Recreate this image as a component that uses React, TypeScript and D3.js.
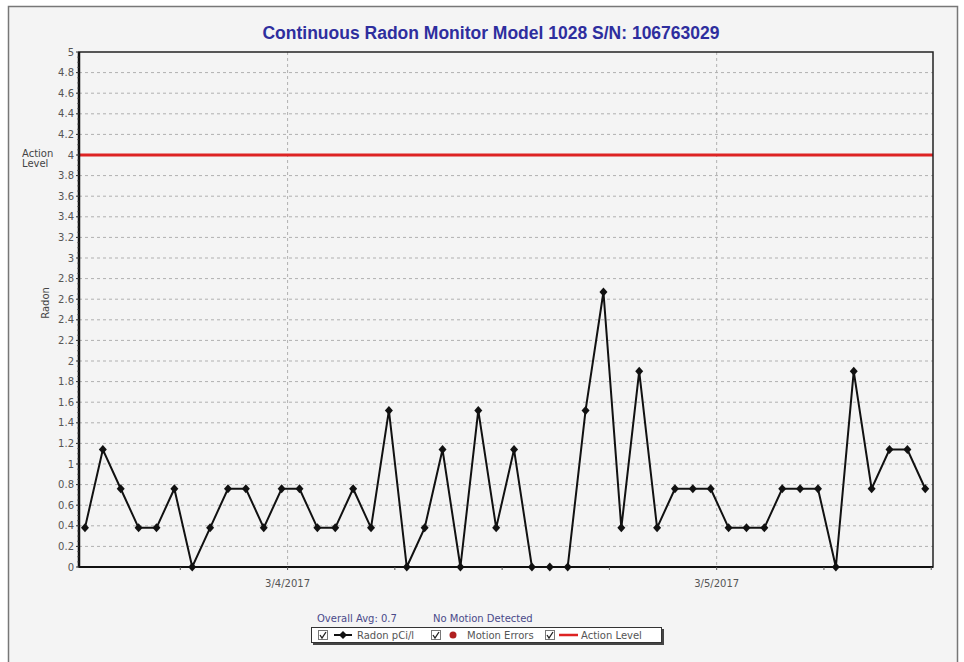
import * as d3 from 'd3';

// hourly readings, pCi/L
const radonValues = [
  0.38, 1.14, 0.76, 0.38, 0.38, 0.76, 0, 0.38, 0.76, 0.76, 0.38, 0.76,
  0.76, 0.38, 0.38, 0.76, 0.38, 1.52, 0, 0.38, 1.14, 0, 1.52, 0.38,
  1.14, 0, 0, 0, 1.52, 2.67, 0.38, 1.9, 0.38, 0.76, 0.76, 0.76,
  0.38, 0.38, 0.38, 0.76, 0.76, 0.76, 0, 1.9, 0.76, 1.14, 1.14, 0.76,
];
const startTime = new Date(2017, 2, 3, 12, 40);
const domainStart = new Date(2017, 2, 3, 12, 20);
const domainEnd = new Date(2017, 2, 5, 12, 6);
const dateTicks = [new Date(2017, 2, 4), new Date(2017, 2, 5)];
const actionLevel = 4;
const yTicks = d3.range(0, 26).map(i => +(i * 0.2).toFixed(1));
const title = 'Continuous Radon Monitor Model 1028 S/N: 106763029';
const overallAvg = 'Overall Avg: 0.7';
const motionText = 'No Motion Detected';

const titleFont = '"Liberation Sans", Arial, sans-serif';
const font = '"DejaVu Sans", Verdana, sans-serif';

const App = () => {
  const width = 964;
  const height = 662;
  const margins = { top: 52, right: 31, bottom: 95, left: 79 };

  const data = radonValues.map((v, i) => ({
    t: d3.timeHour.offset(startTime, i),
    v,
  }));

  const xScale = d3
    .scaleTime()
    .domain([domainStart, domainEnd])
    .range([margins.left, width - margins.right]);
  const yScale = d3
    .scaleLinear()
    .domain([0, 5])
    .range([height - margins.bottom, margins.top]);

  const line = d3
    .line<{ t: Date; v: number }>()
    .x(d => xScale(d.t))
    .y(d => yScale(d.v));

  const minorTicks = xScale.ticks(d3.timeHour.every(6));
  const x0 = margins.left;
  const x1 = width - margins.right;
  const y0 = yScale(0);
  const y1 = yScale(5);

  return (
    <svg
      width={width}
      height={height}
      viewBox={`0 0 ${width} ${height}`}
      style={{ position: 'absolute', left: 0, top: 0 }}
    >
      <rect x={0} y={0} width={width} height={height} fill="#ffffff" />
      <rect x={8.5} y={6.5} width={949} height={670} fill="#f4f4f4" stroke="#777" strokeWidth={1.5} />
      <text
        x={491}
        y={39}
        textAnchor="middle"
        fontFamily={titleFont}
        fontSize={17.5}
        fontWeight="bold"
        fill="#2e2e9e"
      >
        {title}
      </text>

      {/* grid */}
      {yTicks.filter(t => t > 0 && t < 5).map(t => (
        <line
          key={t}
          x1={x0}
          x2={x1}
          y1={yScale(t)}
          y2={yScale(t)}
          stroke="#b0b0b0"
          strokeDasharray="3,3"
        />
      ))}
      {dateTicks.map(d => (
        <line
          key={+d}
          x1={xScale(d)}
          x2={xScale(d)}
          y1={y1}
          y2={y0}
          stroke="#b0b0b0"
          strokeDasharray="3,3"
        />
      ))}

      {/* action level */}
      <line
        x1={x0}
        x2={x1}
        y1={yScale(actionLevel)}
        y2={yScale(actionLevel)}
        stroke="#dd2323"
        strokeWidth={3}
      />

      {/* frame */}
      <rect x={x0} y={y1} width={x1 - x0} height={y0 - y1} fill="none" stroke="#222" strokeWidth={1.5} />
      <line x1={x0} x2={x0} y1={y1} y2={y0} stroke="#111" strokeWidth={2.5} />
      <line x1={x0} x2={x1} y1={y0} y2={y0} stroke="#111" strokeWidth={2} />

      {/* y axis ticks */}
      {yTicks.map(t => (
        <g key={t}>
          <line x1={x0 - 3} x2={x0} y1={yScale(t)} y2={yScale(t)} stroke="#333" />
          <text
            x={x0 - 5}
            y={yScale(t)}
            dy="0.35em"
            textAnchor="end"
            fontFamily={font}
            fontSize={10}
            fill="#555"
          >
            {t}
          </text>
        </g>
      ))}
      {d3.range(0, 5, 0.05).map(t => (
        <line key={`m${t}`} x1={x0 - 1.5} x2={x0} y1={yScale(t)} y2={yScale(t)} stroke="#333" />
      ))}
      <text x={22} y={yScale(actionLevel) + 2} fontFamily={font} fontSize={10} fill="#444">
        Action
      </text>
      <text x={22} y={yScale(actionLevel) + 12} fontFamily={font} fontSize={10} fill="#444">
        Level
      </text>
      <text
        transform={`translate(49, 303) rotate(-90)`}
        textAnchor="middle"
        fontFamily={font}
        fontSize={10}
        fill="#444"
      >
        Radon
      </text>

      {/* x axis ticks */}
      {minorTicks.map(d => (
        <line key={+d} x1={xScale(d)} x2={xScale(d)} y1={y0} y2={y0 + 3} stroke="#555" />
      ))}
      {dateTicks.map(d => (
        <text
          key={+d}
          x={xScale(d)}
          y={y0 + 20}
          textAnchor="middle"
          fontFamily={font}
          fontSize={10}
          fill="#555"
        >
          {d3.timeFormat('%-m/%-d/%Y')(d)}
        </text>
      ))}

      {/* series */}
      <path d={line(data) || ''} fill="none" stroke="#111" strokeWidth={2} />
      {data.map((d, i) => {
        const cx = xScale(d.t);
        const cy = yScale(d.v);
        return (
          <path
            key={i}
            d={`M${cx},${cy - 4.5}L${cx + 4},${cy}L${cx},${cy + 4.5}L${cx - 4},${cy}Z`}
            fill="#111"
          />
        );
      })}

      {/* legend */}
      <text x={317} y={622} fontFamily={font} fontSize={10} fill="#4a4a8a">
        {overallAvg}
      </text>
      <text x={433} y={622} fontFamily={font} fontSize={10} fill="#4a4a8a">
        {motionText}
      </text>
      <rect x={313} y={629} width={351} height={16} fill="#444" />
      <rect x={311.5} y={627.5} width={350} height={15} fill="#ffffff" stroke="#333" />
      {[318, 431, 545].map(x => (
        <g key={x}>
          <rect x={x + 0.5} y={630.5} width={9} height={9} fill="#fff" stroke="#777" />
          <path d={`M${x + 2},${635}L${x + 4},${638}L${x + 8},${632}`} fill="none" stroke="#222" strokeWidth={1.3} />
        </g>
      ))}
      <line x1={334} x2={352} y1={635} y2={635} stroke="#111" strokeWidth={2} />
      <path d="M343,631L347,635L343,639L339,635Z" fill="#111" />
      <text x={357} y={639} fontFamily={font} fontSize={10} fill="#555">
        Radon pCi/l
      </text>
      <circle cx={453} cy={635} r={3.5} fill="#b02020" />
      <text x={467} y={639} fontFamily={font} fontSize={10} fill="#555">
        Motion Errors
      </text>
      <line x1={559} x2={578} y1={635} y2={635} stroke="#dd2323" strokeWidth={2.5} />
      <text x={581} y={639} fontFamily={font} fontSize={10} fill="#555">
        Action Level
      </text>
    </svg>
  );
};

export default App;
